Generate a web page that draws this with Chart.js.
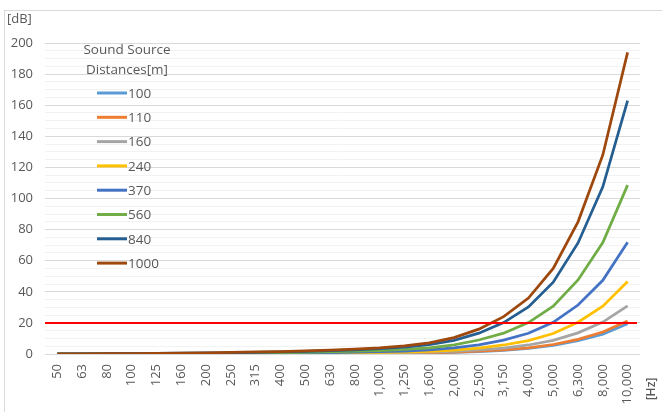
<!DOCTYPE html>
<html>
<head>
<meta charset="utf-8">
<title>Sound attenuation by frequency</title>
<script src="https://cdn.jsdelivr.net/npm/chart.js@4"></script>
<style>
  html, body { margin: 0; padding: 0; background: #ffffff; }
  #wrap { position: relative; width: 662px; height: 412px; }
</style>
</head>
<body>
<div id="wrap"><canvas id="chart" width="662" height="412"></canvas></div>
<script>
// Octave-band frequencies [Hz]
const freqLabels = ['50','63','80','100','125','160','200','250','315','400','500','630','800',
  '1,000','1,250','1,600','2,000','2,500','3,150','4,000','5,000','6,300','8,000','10,000'];

// Attenuation [dB] per sound source distance [m]
const d100  = [0,0,0,0,0,0.1,0.1,0.1,0.1,0.2,0.2,0.3,0.3,0.4,0.5,0.7,1.1,1.6,2.4,3.6,5.5,8.5,12.8,19.4];
const d110  = [0,0,0,0,0,0.1,0.1,0.1,0.1,0.2,0.2,0.3,0.4,0.4,0.6,0.8,1.2,1.8,2.6,4.0,6.1,9.4,14.1,21.3];
const d160  = [0,0,0,0,0.1,0.1,0.1,0.2,0.2,0.3,0.3,0.4,0.5,0.6,0.8,1.2,1.7,2.6,3.8,5.8,8.8,13.6,20.5,31];
const d240  = [0,0,0,0.1,0.1,0.1,0.2,0.2,0.3,0.4,0.5,0.6,0.8,1.0,1.2,1.7,2.5,3.8,5.8,8.6,13.2,20.4,30.7,46.6];
const d370  = [0,0.1,0.1,0.1,0.2,0.2,0.3,0.4,0.5,0.6,0.7,0.9,1.2,1.5,1.9,2.7,3.9,5.9,8.9,13.3,20.4,31.5,47.4,71.8];
const d560  = [0.1,0.1,0.1,0.2,0.3,0.3,0.4,0.6,0.7,0.9,1.1,1.4,1.8,2.2,2.9,4.0,5.9,9.0,13.4,20.2,30.8,47.6,71.7,108.6];
const d840  = [0.1,0.1,0.2,0.3,0.4,0.5,0.7,0.8,1.1,1.3,1.7,2.1,2.7,3.4,4.4,6.0,8.8,13.4,20.2,30.2,46.2,71.4,107.5,163];
const d1000 = [0.1,0.15,0.2,0.3,0.45,0.6,0.8,1.0,1.3,1.6,2.0,2.5,3.2,4.0,5.2,7.2,10.5,16,24,36,55,85,128,194];

const distanceLabels = ['100','110','160','240','370','560','840','1000'];
const distanceSeries = [d100, d110, d160, d240, d370, d560, d840, d1000];
const seriesColors = ['#5B9BD5','#ED7D31','#A5A5A5','#FFC000','#4472C4','#70AD47','#255E91','#9E480E'];

// Reference level [dB]
const thresholdDb = 20;

const FONT = '"Open Sans", "Noto Sans", sans-serif';
const TEXT = '#595959';

const datasets = distanceSeries.map((values, i) => ({
  label: distanceLabels[i],
  data: values,
  borderColor: seriesColors[i],
  backgroundColor: seriesColors[i],
  borderWidth: 2.75,
  pointRadius: 0,
  tension: 0,
  fill: false,
  // larger distances are painted last so they sit on top
  order: distanceSeries.length - i
}));

const framePlugin = {
  id: 'frame',
  beforeDraw(chart) {
    const ctx = chart.ctx;
    ctx.save();
    ctx.strokeStyle = '#d9d9d9';
    ctx.lineWidth = 1;
    ctx.strokeRect(4.5, 10.5, 720, 500);
    ctx.restore();
  }
};

const thresholdPlugin = {
  id: 'threshold',
  afterDatasetsDraw(chart) {
    const { ctx, chartArea, scales } = chart;
    const y = scales.y.getPixelForValue(thresholdDb);
    ctx.save();
    ctx.strokeStyle = '#FF0000';
    ctx.lineWidth = 2;
    ctx.beginPath();
    ctx.moveTo(chartArea.left, y);
    ctx.lineTo(chartArea.right - 3, y);
    ctx.stroke();
    ctx.restore();
  }
};

const annotationPlugin = {
  id: 'annotations',
  afterDraw(chart) {
    const { ctx, chartArea } = chart;
    ctx.save();
    ctx.fillStyle = TEXT;

    // axis units
    ctx.font = '13px ' + FONT;
    ctx.textAlign = 'left';
    ctx.textBaseline = 'middle';
    ctx.fillText('[dB]', 7, 19);

    ctx.save();
    ctx.translate(652, 389);
    ctx.rotate(-Math.PI / 2);
    ctx.textAlign = 'center';
    ctx.font = '600 12px ' + FONT;
    ctx.fillText('[Hz]', 0, 0);
    ctx.restore();

    // legend inside the plot
    const cx = 127;
    ctx.font = '13.5px ' + FONT;
    ctx.textAlign = 'center';
    ctx.fillText('Sound Source', cx, 50);
    ctx.fillText('Distances[m]', cx, 70);

    ctx.textAlign = 'left';
    const x0 = 97, x1 = 127, top = 93, step = 24.3;
    datasets.forEach((ds, i) => {
      const y = top + i * step;
      ctx.strokeStyle = ds.borderColor;
      ctx.lineWidth = 3;
      ctx.beginPath();
      ctx.moveTo(x0, y);
      ctx.lineTo(x1, y);
      ctx.stroke();
      ctx.fillText(ds.label, x1 + 1, y + 1);
    });
    ctx.restore();
  }
};

new Chart(document.getElementById('chart'), {
  type: 'line',
  data: { labels: freqLabels, datasets },
  options: {
    responsive: false,
    animation: false,
    layout: { padding: { left: 5, top: 43, right: 22, bottom: 0 } },
    plugins: {
      legend: { display: false },
      tooltip: { enabled: false }
    },
    scales: {
      x: {
        offset: true,
        grid: { display: false, drawTicks: false },
        border: { display: false },
        ticks: {
          color: TEXT,
          font: { family: FONT, size: 13 },
          minRotation: 90,
          maxRotation: 90,
          autoSkip: false,
          padding: 10
        },
        afterFit(scale) { scale.height = 58; }
      },
      y: {
        min: 0,
        max: 200,
        grid: {
          drawTicks: false,
          color: (c) => (c.tick && c.tick.value % 20 === 0) ? '#d9d9d9' : '#f2f2f2',
          lineWidth: 1
        },
        border: { display: false },
        ticks: {
          stepSize: 5,
          maxTicksLimit: 100,
          autoSkip: false,
          color: TEXT,
          font: { family: FONT, size: 13 },
          padding: 12,
          callback: (v) => (v % 20 === 0 ? v : '')
        },
        afterFit(scale) { scale.width = 40; }
      }
    }
  },
  plugins: [framePlugin, thresholdPlugin, annotationPlugin]
});
</script>
</body>
</html>
